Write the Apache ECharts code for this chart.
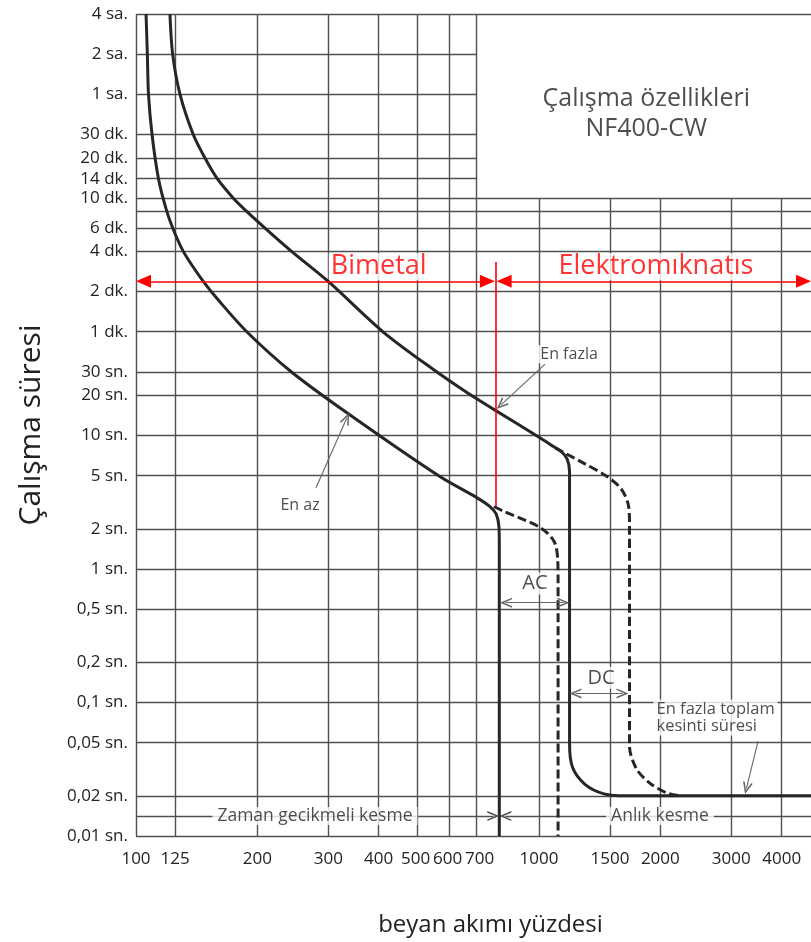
<!DOCTYPE html>
<html>
<head>
<meta charset="utf-8">
<script src="https://cdn.jsdelivr.net/npm/echarts@6/dist/echarts.min.js"></script>
<style>
html,body{margin:0;padding:0;background:#fff;}
#c{width:811px;height:942px;}
</style>
</head>
<body>
<div id="c"></div>
<script>
// ---------- axes ----------
const xMin = 100, xMax = 4730;          // beyan akımı yüzdesi (%)
const yMin = 0.01, yMax = 14400;        // çalışma süresi (s)
const xTicks = [100,125,200,300,400,500,600,700,1000,1500,2000,3000,4000];
const xTickLabels = ['100','125','200','300','400','500','600','700','1000','1500','2000','3000','4000'];
const yTicks = [14400,7200,3600,1800,1200,840,600,480,360,240,120,60,30,20,10,5,2,1,0.5,0.2,0.1,0.05,0.02,0.01];
const yTickLabels = ['4 sa.','2 sa.','1 sa.','30 dk.','20 dk.','14 dk.','10 dk.','','6 dk.','4 dk.','2 dk.','1 dk.',
  '30 sn.','20 sn.','10 sn.','5 sn.','2 sn.','1 sn.','0,5 sn.','0,2 sn.','0,1 sn.','0,05 sn.','0,02 sn.','0,01 sn.'];
// title panel (no grid inside): current > 700 %, time > 600 s
const boxLeft = 700, boxBottom = 600;

// ---------- curves [current %, time s] ----------
const upperSolid = [[121.4,14400],[123.3,7200],[128.6,3600],[138.7,1800],[148.3,1200],[159.1,840],[174.4,600],
  [187.9,480],[208.6,360],[243.2,240],[299.5,143.3],[410,59.9],[541.6,31.9],[660.9,21.1],[774,15.65],
  [998,9.77],[1068,8.55],[1134,7.61],[1174,6.69],[1190.6,5.35],[1190.6,0.0494],[1211,0.0327],
  [1300,0.0244],[1450,0.0207],[1644,0.02],[4730,0.02]];
const upperDashed = [[1096,8.08],[1300,6.14],[1472,4.96],[1598,4.0],[1663,3.09],[1677,2.23],[1677,0.0469],
  [1748,0.0316],[1886,0.0248],[2075,0.021],[2238,0.02]];
const lowerSolid = [[105.9,14400],[106.7,7200],[107.4,3600],[109.6,1800],[113.7,840],[119.2,480],[124.2,341],
  [130.8,242],[138.5,183.9],[148.3,137.3],[158.9,106.2],[188.3,60],[243.6,29.8],[331.6,15.0],[564.8,4.97],
  [700.5,3.43],[755.6,2.94],[782.2,2.60],[795.7,2.05],[797,1.45],[797,0.01]];
const lowerDashed = [[773.3,2.94],[814,2.72],[1005.7,2.05],[1090,1.61],[1113,1.16],[1115,0.796],[1115,0.01]];

// ---------- red region markers ----------
const regionLevel = 143;                       // time of the red dimension line
const bimetalSpan = [100, 777];
const elektroSpan = [785, 4730];
const boundaryCurrent = 780, boundaryTop = 200, boundaryBottom = 2.95;

// ---------- annotation arrows [[from],[to]] ----------
const arrowEnFazla = [[1035,34.3],[785,15.8]];
const arrowEnAz = [[279.7,4.07],[337.7,14.77]];
const arrowToplam = [[3494,0.0511],[3245,0.0206]];
const arrowAC = [[800,0.56],[1190,0.56]];
const arrowDC = [[1190,0.117],[1668,0.117]];
const kesmeLevel = 0.0141;
const kesmeSplit = 797;

// ---------- texts ----------
const texts = [
  {text:'Bimetal', at:[400,184], kind:'red'},
  {text:'Elektromıknatıs', at:[1951,184], kind:'red'},
  {text:'Çalışma özellikleri\nNF400-CW', at:[1845,2560], kind:'title'},
  {text:'En fazla', at:[1187,40.6], kind:'note'},
  {text:'En az', at:[255.3,2.99], kind:'note'},
  {text:'AC', at:[977,0.78], kind:'big'},
  {text:'DC', at:[1425,0.153], kind:'big'},
  {text:'En fazla toplam\nkesinti süresi', at:[1918,0.0771], kind:'left'},
  {text:'Zaman gecikmeli kesme', at:[278,kesmeLevel], kind:'kesme'},
  {text:'Anlık kesme', at:[1996,kesmeLevel], kind:'kesme'}
];

// ---------- build ----------
const FONT = "'Open Sans','Noto Sans',sans-serif";
const GRID = '#505050';
const TXT = '#222';
const CHEVRON = 'path://M0,10 L5,0 L10,10 L8.3,10 L5,3.4 L1.7,10 Z';
const xLabelPad = {'500':[0,4,0,0], '600':[0,4,0,0], '700':[0,0,0,6]};

const hGridData = yTicks.map((t,i)=>[
  {coord:[xMin,t], name:yTickLabels[i]},
  {coord:[(t>boxBottom && t<yMax) ? boxLeft : xMax, t]}
]);
const vGridData = xTicks.map((v,i)=>[
  {coord:[v,yMin], name:xTickLabels[i], label: xLabelPad[xTickLabels[i]] ? {padding:xLabelPad[xTickLabels[i]]} : undefined},
  {coord:[v,(v>boxLeft) ? boxBottom : yMax]}
]);

function textItem(o){
  const base = {show:true, formatter:o.text, fontFamily:FONT, color:TXT, position:'inside'};
  if(o.kind==='red') Object.assign(base,{color:'#f00', fontSize:27, backgroundColor:'#fff', padding:[0,2]});
  if(o.kind==='title') Object.assign(base,{fontSize:25, lineHeight:30});
  if(o.kind==='note') Object.assign(base,{fontSize:16, backgroundColor:'#fff', padding:[1,3]});
  if(o.kind==='big') Object.assign(base,{fontSize:20, backgroundColor:'#fff', padding:[1,4]});
  if(o.kind==='left') Object.assign(base,{fontSize:16.5, lineHeight:17, backgroundColor:'#fff', padding:[1,3], position:'right', distance:0, align:'left'});
  if(o.kind==='kesme') Object.assign(base,{fontSize:17.5, backgroundColor:'#fff', padding:[0,5]});
  return {value:o.at, label:base};
}

const curveBase = {type:'line', showSymbol:false, symbol:'none', silent:true, smooth:0.3, z:3, animation:false};

function plainSeg(a,b){ return [{coord:a},{coord:b}]; }

function buildOption(seg){
  // seg(from, to, headAtStart, headAtEnd, headHalfLength)
  const mk = (base)=>Object.assign({silent:true, animation:false, label:{show:false}, emphasis:{disabled:true}}, base);
  return {
    backgroundColor:'#fff',
    animation:false,
    grid:{left:136, top:14, right:0, bottom:102, containLabel:false},
    xAxis:{type:'log', logBase:10, min:xMin, max:xMax,
      axisLine:{show:false}, axisTick:{show:false}, axisLabel:{show:false}, splitLine:{show:false},
      name:'beyan akımı yüzdesi', nameLocation:'middle', nameGap:77,
      nameTextStyle:{fontSize:24, color:TXT, fontFamily:FONT, padding:[0,0,0,34]}},
    yAxis:{type:'log', logBase:10, min:yMin, max:yMax,
      axisLine:{show:false}, axisTick:{show:false}, axisLabel:{show:false}, splitLine:{show:false},
      name:'Çalışma süresi', nameLocation:'middle', nameGap:90, nameRotate:90,
      nameTextStyle:{fontSize:30, color:TXT, fontFamily:FONT}},
    series:[
      {type:'line', data:[], silent:true, markLine:mk({symbol:'none', z:1,
        lineStyle:{color:GRID, width:1.4, type:'solid'},
        label:{show:true, position:'start', formatter:'{b}', distance:8, color:TXT, fontSize:17, fontFamily:FONT},
        data:hGridData})},
      {type:'line', data:[], silent:true, markLine:mk({symbol:'none', z:1,
        lineStyle:{color:GRID, width:1.4, type:'solid'},
        label:{show:true, position:'start', formatter:'{b}', distance:15, color:TXT, fontSize:17, fontFamily:FONT},
        data:vGridData})},
      // kesme dimension line
      {type:'line', data:[], silent:true, markLine:mk({z:1.5,
        symbol:['none',CHEVRON], symbolSize:[10,12],
        lineStyle:{color:GRID, width:1.4, type:'solid'}, itemStyle:{color:GRID},
        data:[seg([xMin,kesmeLevel],[kesmeSplit,kesmeLevel],false,true,6),
              seg([xMax,kesmeLevel],[kesmeSplit,kesmeLevel],false,true,6)]})},
      // text annotations
      {type:'scatter', silent:true, z:2, symbolSize:1, itemStyle:{color:'rgba(0,0,0,0)'}, animation:false,
        data:texts.map(textItem)},
      // curves
      Object.assign({}, curveBase, {name:'En fazla', data:upperSolid, lineStyle:{color:'#262626', width:3}}),
      Object.assign({}, curveBase, {name:'En fazla DC', data:upperDashed, lineStyle:{color:'#262626', width:3, type:[9,4]}}),
      Object.assign({}, curveBase, {name:'En az', data:lowerSolid, lineStyle:{color:'#262626', width:3}}),
      Object.assign({}, curveBase, {name:'En az AC', data:lowerDashed, lineStyle:{color:'#262626', width:3, type:[9,4]}}),
      // red arrows
      {type:'line', data:[], silent:true, markLine:mk({z:4,
        symbol:['triangle','triangle'], symbolSize:[13,15],
        lineStyle:{color:'#f00', width:1.6, type:'solid'}, itemStyle:{color:'#f00'},
        data:[seg([bimetalSpan[0],regionLevel],[bimetalSpan[1],regionLevel],true,true,7.5),
              seg([elektroSpan[0],regionLevel],[elektroSpan[1],regionLevel],true,true,7.5)]})},
      {type:'line', data:[], silent:true, markLine:mk({z:4, symbol:'none',
        lineStyle:{color:'#f00', width:1.6, type:'solid'},
        data:[plainSeg([boundaryCurrent,boundaryTop],[boundaryCurrent,boundaryBottom])]})},
      // gray pointer arrows (end only)
      {type:'line', data:[], silent:true, markLine:mk({z:4,
        symbol:['none',CHEVRON], symbolSize:[10,12],
        lineStyle:{color:'#666', width:1.1, type:'solid'}, itemStyle:{color:'#666'},
        data:[seg(arrowEnFazla[0],arrowEnFazla[1],false,true,6), seg(arrowEnAz[0],arrowEnAz[1],false,true,6),
              seg(arrowToplam[0],arrowToplam[1],false,true,6)]})},
      // gray double arrows
      {type:'line', data:[], silent:true, markLine:mk({z:4,
        symbol:[CHEVRON,CHEVRON], symbolSize:[10,12],
        lineStyle:{color:'#666', width:1.1, type:'solid'}, itemStyle:{color:'#666'},
        data:[seg(arrowAC[0],arrowAC[1],true,true,6), seg(arrowDC[0],arrowDC[1],true,true,6)]})}
    ]
  };
}

const chart = echarts.init(document.getElementById('c'));
chart.setOption(buildOption((a,b)=>plainSeg(a,b)));

// move each arrow end inward by half of its head, through the chart's own scales,
// so that the head's tip lands exactly on the data point
const toPx = v=>chart.convertToPixel({gridIndex:0}, v);
const toData = p=>chart.convertFromPixel({gridIndex:0}, p);
function inset(tip, other, px){
  const a = toPx(tip), b = toPx(other);
  const dx = b[0]-a[0], dy = b[1]-a[1], L = Math.hypot(dx,dy) || 1;
  return toData([a[0]+dx/L*px, a[1]+dy/L*px]);
}
function headSeg(from, to, hs, he, half){
  return [{coord: hs ? inset(from,to,half) : from}, {coord: he ? inset(to,from,half) : to}];
}
chart.setOption(buildOption(headSeg), {notMerge:true});
</script>
</body>
</html>
